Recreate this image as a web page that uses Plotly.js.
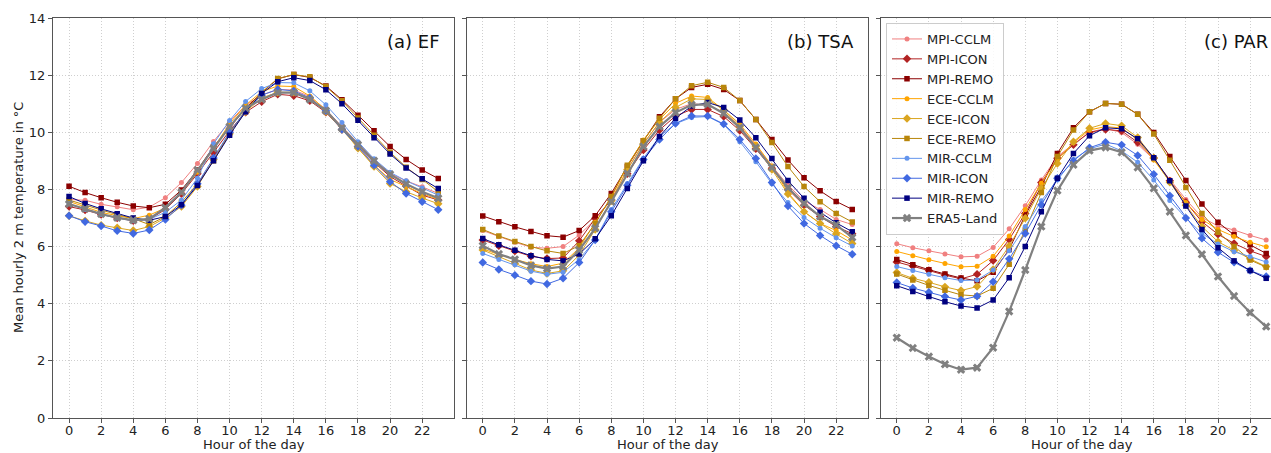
<!DOCTYPE html>
<html>
<head>
<meta charset="utf-8">
<script src="https://cdn.plot.ly/plotly-3.0.1.min.js"></script>
<style>html,body{margin:0;padding:0;background:#fff;}#chart{width:1271px;height:453px;}</style>
</head>
<body>
<div id="chart"></div>
<script>
const hours = [0,1,2,3,4,5,6,7,8,9,10,11,12,13,14,15,16,17,18,19,20,21,22,23];
const models = ['MPI-CCLM','MPI-ICON','MPI-REMO','ECE-CCLM','ECE-ICON','ECE-REMO','MIR-CCLM','MIR-ICON','MIR-REMO','ERA5-Land'];
const panelTitles = ['(a) EF','(b) TSA','(c) PAR'];
const yTicks = [0,2,4,6,8,10,12,14];

// (a) EF
const ef_MPI_CCLM = [7.65,7.62,7.48,7.39,7.29,7.38,7.71,8.24,8.91,9.68,10.37,10.95,11.30,11.50,11.48,11.25,10.80,10.20,9.62,9.05,8.56,8.30,8.09,7.86];
const ef_MPI_ICON = [7.40,7.28,7.12,7.00,6.90,6.95,7.30,7.85,8.55,9.30,10.05,10.70,11.07,11.33,11.28,11.10,10.70,10.10,9.50,8.95,8.45,8.12,7.80,7.63];
const ef_MPI_REMO = [8.11,7.89,7.71,7.55,7.42,7.36,7.48,7.98,8.68,9.50,10.15,10.85,11.38,11.87,12.02,11.92,11.62,11.14,10.60,10.05,9.50,9.05,8.68,8.38];
const ef_ECE_CCLM = [7.58,7.38,7.20,7.08,6.98,7.10,7.35,7.90,8.60,9.45,10.30,10.95,11.42,11.62,11.60,11.27,10.78,10.15,9.44,8.85,8.35,8.10,7.85,7.65];
const ef_ECE_ICON = [7.08,6.90,6.75,6.66,6.56,6.70,7.00,7.40,8.10,9.05,9.95,10.72,11.20,11.40,11.40,11.20,10.72,10.10,9.44,8.80,8.21,7.92,7.70,7.50];
const ef_ECE_REMO = [7.63,7.45,7.28,7.12,6.98,6.77,7.05,7.55,8.20,9.00,9.95,10.78,11.40,11.88,12.02,11.94,11.60,11.10,10.50,9.90,9.30,8.78,8.35,7.92];
const ef_MIR_CCLM = [7.50,7.30,7.12,7.00,6.90,6.95,7.20,7.63,8.39,9.60,10.41,11.08,11.53,11.74,11.73,11.45,10.96,10.34,9.67,9.07,8.60,8.30,8.05,7.80];
const ef_MIR_ICON = [7.08,6.87,6.72,6.55,6.46,6.58,6.95,7.45,8.20,9.10,10.00,10.75,11.30,11.50,11.45,11.20,10.75,10.10,9.50,8.85,8.27,7.86,7.57,7.29];
const ef_MIR_REMO = [7.75,7.51,7.32,7.15,7.00,6.92,7.05,7.46,8.14,9.00,9.90,10.72,11.36,11.77,11.91,11.81,11.49,11.00,10.42,9.81,9.24,8.75,8.37,8.03];
const ef_ERA5 = [7.49,7.32,7.14,7.01,6.92,6.97,7.36,7.90,8.68,9.44,10.20,10.85,11.15,11.39,11.39,11.15,10.76,10.15,9.56,9.00,8.53,8.19,7.92,7.69];

// (b) TSA
const tsa_MPI_CCLM = [6.56,6.35,6.15,5.98,5.94,6.00,6.40,6.95,7.65,8.70,9.60,10.35,10.80,11.00,10.95,10.70,10.22,9.55,8.82,8.15,7.60,7.30,6.95,6.77];
const tsa_MPI_ICON = [6.23,6.03,5.84,5.66,5.58,5.60,6.20,6.99,7.62,8.55,9.38,10.08,10.57,10.80,10.80,10.55,10.06,9.42,8.74,8.00,7.45,7.05,6.70,6.45];
const tsa_MPI_REMO = [7.07,6.87,6.69,6.53,6.38,6.33,6.56,7.08,7.86,8.80,9.70,10.54,11.17,11.57,11.68,11.50,11.11,10.45,9.75,9.03,8.41,7.95,7.58,7.30];
const tsa_ECE_CCLM = [5.92,5.72,5.55,5.40,5.30,5.42,5.95,6.85,7.72,8.82,9.73,10.45,11.01,11.27,11.22,10.78,10.29,9.59,8.82,7.89,7.22,6.81,6.56,6.23];
const tsa_ECE_ICON = [5.88,5.65,5.41,5.18,5.06,5.15,5.70,6.60,7.60,8.70,9.60,10.35,10.87,11.17,11.15,10.78,10.20,9.50,8.70,7.84,7.22,6.81,6.44,6.11];
const tsa_ECE_REMO = [6.60,6.37,6.18,6.00,5.85,5.76,6.03,6.81,7.75,8.85,9.70,10.49,11.17,11.63,11.75,11.57,11.11,10.45,9.64,8.80,8.10,7.57,7.16,6.86];
const tsa_MIR_CCLM = [5.76,5.55,5.36,5.14,5.03,5.10,5.55,6.23,7.30,8.21,9.09,9.85,10.30,10.52,10.55,10.27,9.67,8.97,8.20,7.54,7.02,6.64,6.31,6.02];
const tsa_MIR_ICON = [5.44,5.20,5.00,4.79,4.69,4.89,5.44,6.23,7.22,8.15,9.05,9.75,10.31,10.57,10.57,10.29,9.75,9.08,8.24,7.42,6.81,6.39,6.03,5.73];
const tsa_MIR_REMO = [6.28,6.06,5.87,5.68,5.55,5.50,5.74,6.27,7.08,8.03,9.00,9.85,10.49,10.92,11.04,10.87,10.43,9.81,9.08,8.31,7.69,7.20,6.83,6.52];
const tsa_ERA5 = [6.03,5.74,5.55,5.34,5.23,5.30,5.88,6.64,7.57,8.56,9.50,10.20,10.69,10.96,10.98,10.66,10.16,9.47,8.77,8.06,7.51,7.05,6.76,6.32];

// (c) PAR
const par_MPI_CCLM = [6.10,5.96,5.85,5.74,5.64,5.66,5.97,6.62,7.43,8.33,9.15,9.59,10.00,10.14,9.99,9.58,9.05,8.35,7.65,7.02,6.72,6.58,6.39,6.23];
const par_MPI_ICON = [5.46,5.32,5.16,5.00,4.87,5.03,5.51,6.25,7.16,8.24,9.09,9.56,10.00,10.10,10.05,9.65,9.10,8.30,7.55,6.87,6.43,6.11,5.85,5.65];
const par_MPI_REMO = [5.55,5.36,5.19,5.04,4.90,4.80,5.10,5.90,7.10,8.10,9.26,10.16,10.72,11.01,10.98,10.63,9.99,9.15,8.31,7.49,6.85,6.41,6.06,5.76];
const par_ECE_CCLM = [5.83,5.68,5.54,5.41,5.29,5.31,5.66,6.37,7.30,8.22,9.05,9.64,10.08,10.20,10.15,9.75,9.03,8.28,7.54,6.95,6.60,6.35,6.15,5.99];
const par_ECE_ICON = [5.09,4.89,4.75,4.59,4.46,4.60,5.20,6.02,6.99,8.04,8.91,9.67,10.14,10.31,10.23,9.82,9.10,8.25,7.45,6.70,6.17,5.86,5.57,5.30];
const par_ECE_REMO = [5.04,4.83,4.64,4.47,4.31,4.27,4.54,5.38,6.58,7.89,9.15,10.08,10.72,11.01,10.98,10.63,9.94,9.02,8.07,7.16,6.50,6.00,5.53,5.28];
const par_MIR_CCLM = [5.30,5.16,5.03,4.91,4.81,4.83,5.18,5.85,6.70,7.60,8.33,9.05,9.42,9.59,9.35,8.95,8.33,7.61,7.00,6.46,6.09,5.82,5.65,5.46];
const par_MIR_ICON = [4.74,4.55,4.40,4.25,4.13,4.26,4.77,5.57,6.46,7.46,8.39,9.00,9.46,9.65,9.56,9.19,8.53,7.78,7.00,6.29,5.80,5.45,5.16,4.95];
const par_MIR_REMO = [4.63,4.43,4.25,4.07,3.92,3.85,4.13,4.91,6.00,7.22,8.39,9.26,9.88,10.16,10.12,9.77,9.11,8.30,7.42,6.60,5.96,5.50,5.16,4.89];
const par_ERA5 = [2.81,2.45,2.15,1.88,1.69,1.76,2.46,3.73,5.18,6.70,7.96,8.86,9.36,9.47,9.30,8.77,8.04,7.22,6.39,5.73,4.95,4.27,3.69,3.20];

const panels = [
  [ef_MPI_CCLM, ef_MPI_ICON, ef_MPI_REMO, ef_ECE_CCLM, ef_ECE_ICON, ef_ECE_REMO, ef_MIR_CCLM, ef_MIR_ICON, ef_MIR_REMO, ef_ERA5],
  [tsa_MPI_CCLM, tsa_MPI_ICON, tsa_MPI_REMO, tsa_ECE_CCLM, tsa_ECE_ICON, tsa_ECE_REMO, tsa_MIR_CCLM, tsa_MIR_ICON, tsa_MIR_REMO, tsa_ERA5],
  [par_MPI_CCLM, par_MPI_ICON, par_MPI_REMO, par_ECE_CCLM, par_ECE_ICON, par_ECE_REMO, par_MIR_CCLM, par_MIR_ICON, par_MIR_REMO, par_ERA5]
];

const colors = ['#F08080','#B22222','#8B0000','#FFA500','#DAA520','#B8860B','#6495ED','#4169E1','#000080','#808080'];
const symbols = ['circle','diamond','square','circle','diamond','square','circle','diamond','square','x'];
const msizes = [5,6.5,5.5,5,6.5,5.5,5,6.5,5.5,7.5];
const lwidths = [1,1,1,1,1,1,1,1,1,2.2];

const traces = [];
panels.forEach((series, p) => {
  const ax = p === 0 ? '' : String(p + 1);
  series.forEach((vals, i) => {
    traces.push({
      type: 'scatter', mode: 'lines+markers',
      x: hours, y: vals, name: models[i],
      xaxis: 'x' + ax, yaxis: 'y' + ax,
      line: {color: colors[i], width: lwidths[i]},
      marker: {color: colors[i], symbol: symbols[i], size: msizes[i], line: {width: 0}},
      showlegend: p === 2, legendrank: i + 1
    });
  });
});

const L = 53, W = 1218;
const px = v => (v - L) / W;
const domains = [[0, px(454.3)], [px(466.7), px(868.3)], [px(880.7), 1]];
const xRanges = [[-1, 24], [-1, 24], [-1, 23.3]];

const axisCommon = {
  showline: true, linecolor: '#555', linewidth: 1,
  ticks: 'outside', ticklen: 4, tickwidth: 1, tickcolor: '#555',
  showgrid: true, gridcolor: '#cfcfcf', griddash: '1px,2px', gridwidth: 1,
  zeroline: false,
  tickfont: {family: 'DejaVu Sans', size: 13, color: '#222'}
};

const layout = {
  width: 1271, height: 453,
  margin: {l: L, r: 0, t: 18, b: 35},
  paper_bgcolor: '#fff', plot_bgcolor: '#fff',
  font: {family: 'DejaVu Sans', size: 13, color: '#222'},
  legend: {
    x: px(886), y: 0.9875, xanchor: 'left', yanchor: 'top',
    bgcolor: 'rgba(255,255,255,0.85)', bordercolor: '#cccccc', borderwidth: 1,
    font: {family: 'DejaVu Sans', size: 13, color: '#222'},
    tracegroupgap: 0, itemwidth: 30
  },
  annotations: [],
  showlegend: true
};

for (let p = 0; p < 3; p++) {
  const ax = p === 0 ? '' : String(p + 1);
  layout['xaxis' + ax] = Object.assign({}, axisCommon, {
    domain: domains[p], range: xRanges[p], tickmode: 'array',
    tickvals: hours.filter(h => h % 2 === 0), anchor: 'y' + ax, mirror: true,
    ticklabelstandoff: -4
  });
  layout['yaxis' + ax] = Object.assign({}, axisCommon, {
    domain: [0, 1], range: [0, 14], tickmode: 'array', tickvals: yTicks,
    showticklabels: p === 0, anchor: 'x' + ax, mirror: p < 2
  });
  const dom = domains[p];
  const rightPx = p < 2 ? (L + dom[1] * W) - 12.6 : 1269.7;
  layout.annotations.push({
    text: panelTitles[p], xref: 'paper', yref: 'paper',
    x: px(rightPx), y: 1 - (41.7 - 18) / 400, xanchor: 'right', yanchor: 'middle',
    showarrow: false, font: {family: 'DejaVu Sans', size: 18, color: '#111'}
  });
  const centerPx = p < 2 ? L + (dom[0] + dom[1]) / 2 * W : 880.7 + 401.6 / 2;
  layout.annotations.push({
    text: 'Hour of the day', xref: 'paper', yref: 'paper',
    x: px(centerPx), y: -(445 - 418) / 400, xanchor: 'center', yanchor: 'middle',
    showarrow: false, font: {family: 'DejaVu Sans', size: 13, color: '#222'}
  });
}
layout.annotations.push({
  text: 'Mean hourly 2 m temperature in °C', xref: 'paper', yref: 'paper',
  x: px(18), y: 0.5, xanchor: 'center', yanchor: 'middle', textangle: -90,
  showarrow: false, font: {family: 'DejaVu Sans', size: 13, color: '#222'}
});

Plotly.newPlot('chart', traces, layout, {displayModeBar: false, staticPlot: true});
</script>
</body>
</html>
